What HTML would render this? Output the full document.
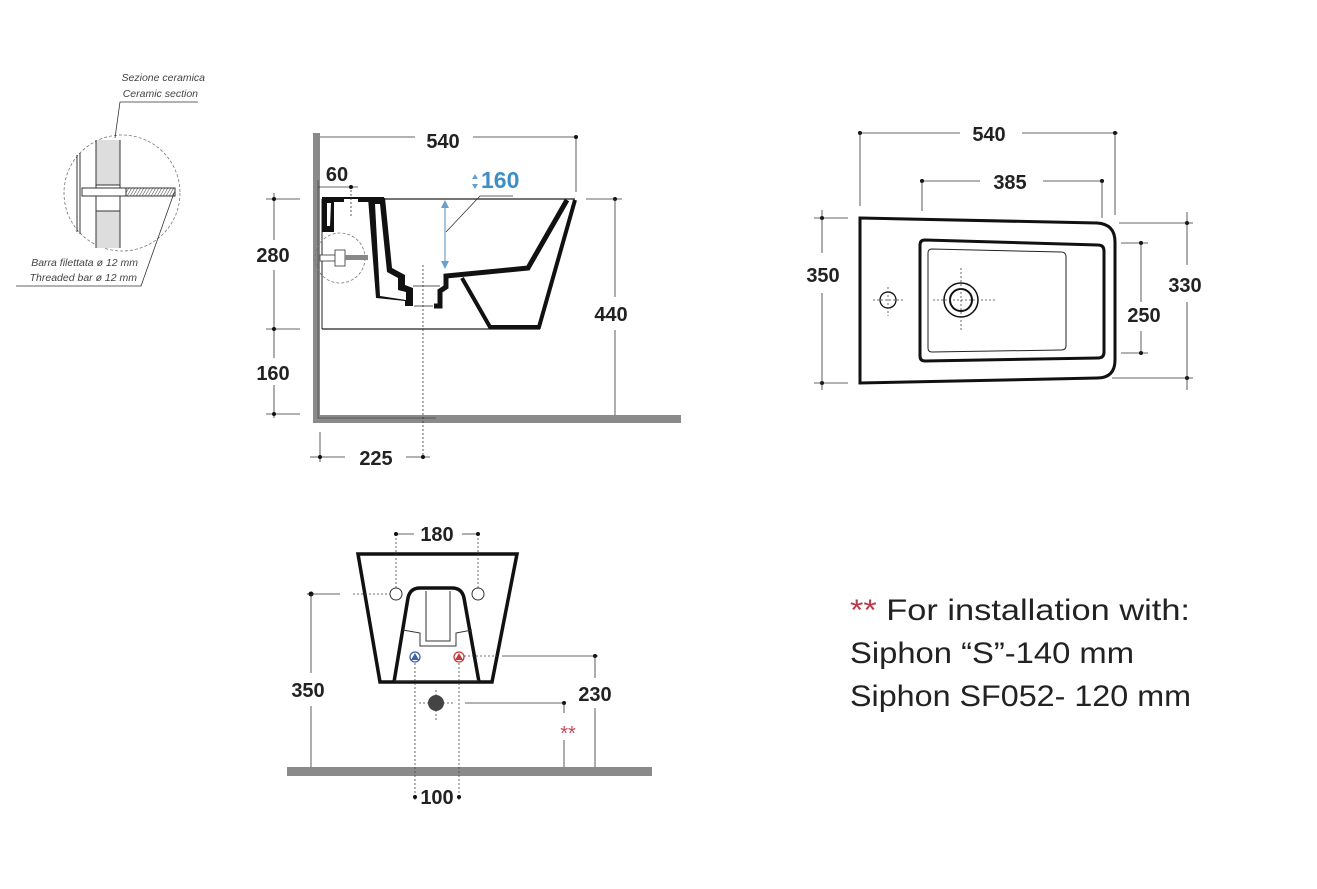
<!DOCTYPE html>
<html><head><meta charset="utf-8"><style>
html,body{margin:0;padding:0;background:#fff}
svg{display:block}
.d{font-family:"Liberation Sans",sans-serif;font-weight:bold;font-size:20px;fill:#222}
.it{font-family:"Liberation Sans",sans-serif;font-style:italic;font-size:10.5px;fill:#444}
.t{font-family:"Liberation Sans",sans-serif;font-size:30px;fill:#222}
</style></head><body>
<svg width="1317" height="889" viewBox="0 0 1317 889" xmlns="http://www.w3.org/2000/svg">
<rect width="1317" height="889" fill="#fff"/>

<!-- DETAIL -->
<g>
<circle cx="122" cy="193" r="58" fill="none" stroke="#777" stroke-width="0.8" stroke-dasharray="3,2"/>
<rect x="96" y="140" width="24" height="108" fill="#ddd"/>
<line x1="96" y1="140" x2="96" y2="248" stroke="#333" stroke-width="1"/>
<line x1="120" y1="140" x2="120" y2="248" stroke="#333" stroke-width="1"/>
<line x1="77" y1="155" x2="77" y2="232" stroke="#333" stroke-width="1"/>
<line x1="80" y1="153" x2="80" y2="234" stroke="#333" stroke-width="1"/>
<rect x="96" y="185" width="24" height="26" fill="#fff" stroke="#333" stroke-width="1"/>
<rect x="82" y="188" width="93" height="8" fill="#fff" stroke="#333" stroke-width="1"/>
<rect x="126" y="188" width="49" height="8" fill="url(#h)" stroke="#333" stroke-width="1"/>
<defs><pattern id="h" width="3" height="8" patternUnits="userSpaceOnUse" patternTransform="skewX(-30)"><rect width="3" height="8" fill="#fff"/><line x1="0" y1="0" x2="0" y2="8" stroke="#444" stroke-width="1.2"/></pattern></defs>
<polyline points="115,138 120,102 198,102" fill="none" stroke="#333" stroke-width="0.8"/>
<polyline points="174,193 141,286 16,286" fill="none" stroke="#333" stroke-width="0.8"/>
<text class="it" x="205" y="81" text-anchor="end">Sezione ceramica</text>
<text class="it" x="198" y="97" text-anchor="end">Ceramic section</text>
<text class="it" x="138" y="266" text-anchor="end">Barra filettata ø 12 mm</text>
<text class="it" x="137" y="281" text-anchor="end">Threaded bar ø 12 mm</text>
</g>

<!-- SIDE VIEW -->
<g>
<rect x="313" y="133" width="7" height="290" fill="#8a8a8a"/>
<rect x="313" y="415" width="368" height="8" fill="#8a8a8a"/>
<polyline points="318,180 318,418 436,418" fill="none" stroke="#555" stroke-width="1"/>
<line x1="322" y1="329" x2="540" y2="329" stroke="#222" stroke-width="1.2"/>
<line x1="322" y1="199" x2="322" y2="329" stroke="#222" stroke-width="1"/>
<!-- top rim -->
<rect x="322" y="197" width="62" height="5" fill="#111"/>
<line x1="384" y1="199" x2="575" y2="199" stroke="#222" stroke-width="1.2"/>
<rect x="344" y="199" width="14" height="3" fill="#fff"/>
<polygon points="322,199 334,199 334,232 322,232" fill="#111"/>
<polygon points="327,203 331,203 330,226 327,226" fill="#fff"/>
<!-- band -->
<polygon points="368,198 385,198 392,268 405,275 405,285 413,288 413,306 405,306 405,301 376,298" fill="#111"/>
<polygon points="375,204 380,204 387,272 398,278 398,290 406,292 406,300 380,296" fill="#fff"/>
<polygon points="433,306 441,306 441,290 446,286 446,276 528,268 566,199 578,199 540,329 490,329 462,280 448,282 448,290 441,296 441,306" fill="none"/>
<polyline points="434,306 440,306 440,291 446,287 446,276 528,268 567,200" fill="none" stroke="#111" stroke-width="5" stroke-linejoin="miter"/>
<polyline points="575,200 539,327 490,327 462,278" fill="none" stroke="#111" stroke-width="4"/>
<line x1="414" y1="306" x2="433" y2="306" stroke="#555" stroke-width="1"/>
<line x1="413" y1="286" x2="440" y2="286" stroke="#555" stroke-width="1"/>
<line x1="423" y1="265" x2="423" y2="460" stroke="#333" stroke-width="0.8" stroke-dasharray="2,2"/>
<line x1="351" y1="190" x2="351" y2="218" stroke="#333" stroke-width="0.8" stroke-dasharray="2,2"/>
<!-- fixing -->
<circle cx="340" cy="258" r="25" fill="none" stroke="#777" stroke-width="0.8" stroke-dasharray="3,2"/>
<rect x="320" y="255" width="25" height="6" fill="#fff" stroke="#333" stroke-width="0.8"/>
<rect x="335" y="250" width="10" height="16" fill="#fff" stroke="#333" stroke-width="0.8"/>
<rect x="345" y="255" width="23" height="5" fill="#888"/>
<!-- blue arrow -->
<line x1="445" y1="203" x2="445" y2="266" stroke="#6aa0cc" stroke-width="1.2"/>
<polygon points="445,200 441,208 449,208" fill="#6aa0cc"/>
<polygon points="445,269 441,261 449,261" fill="#6aa0cc"/>
<polyline points="446,232 480,196 513,196" fill="none" stroke="#333" stroke-width="0.8"/>
<polygon points="475,174 472,179 478,179" fill="#6aa0cc"/><polygon points="475,189 472,184 478,184" fill="#6aa0cc"/>
<text class="d" x="481" y="188" style="fill:#3d8fc4;font-size:23px">160</text>
<!-- dims -->
<line x1="320" y1="137" x2="415" y2="137" stroke="#333" stroke-width="0.8"/>
<line x1="473" y1="137" x2="575" y2="137" stroke="#333" stroke-width="0.8"/>
<line x1="576" y1="137" x2="576" y2="192" stroke="#333" stroke-width="0.8"/>
<circle cx="576" cy="137" r="2" fill="#111"/>
<text class="d" x="443" y="148" text-anchor="middle">540</text>
<text class="d" x="337" y="181" text-anchor="middle">60</text>
<line x1="318" y1="187" x2="358" y2="187" stroke="#333" stroke-width="0.8"/>
<circle cx="351" cy="187" r="2" fill="#111"/>
<line x1="274" y1="193" x2="274" y2="240" stroke="#333" stroke-width="0.8"/>
<line x1="274" y1="270" x2="274" y2="358" stroke="#333" stroke-width="0.8"/>
<line x1="274" y1="385" x2="274" y2="418" stroke="#333" stroke-width="0.8"/>
<line x1="266" y1="199" x2="300" y2="199" stroke="#333" stroke-width="0.8"/>
<line x1="266" y1="329" x2="300" y2="329" stroke="#333" stroke-width="0.8"/>
<line x1="266" y1="414" x2="300" y2="414" stroke="#333" stroke-width="0.8"/>
<circle cx="274" cy="199" r="2" fill="#111"/><circle cx="274" cy="329" r="2" fill="#111"/><circle cx="274" cy="414" r="2" fill="#111"/>
<text class="d" x="273" y="262" text-anchor="middle">280</text>
<text class="d" x="273" y="380" text-anchor="middle">160</text>
<line x1="586" y1="199" x2="622" y2="199" stroke="#333" stroke-width="0.8"/>
<circle cx="615" cy="199" r="2" fill="#111"/>
<line x1="615" y1="199" x2="615" y2="297" stroke="#333" stroke-width="0.8"/>
<line x1="615" y1="330" x2="615" y2="415" stroke="#333" stroke-width="0.8"/>
<text class="d" x="611" y="321" text-anchor="middle">440</text>
<line x1="320" y1="432" x2="320" y2="462" stroke="#333" stroke-width="0.8"/>
<line x1="310" y1="457" x2="345" y2="457" stroke="#333" stroke-width="0.8"/>
<line x1="406" y1="457" x2="430" y2="457" stroke="#333" stroke-width="0.8"/>
<circle cx="320" cy="457" r="2" fill="#111"/><circle cx="423" cy="457" r="2" fill="#111"/>
<text class="d" x="376" y="465" text-anchor="middle">225</text>
</g>

<!-- TOP VIEW -->
<g>
<path d="M860,218 L1097,223 Q1115,224 1115,242 L1115,360 Q1115,378 1097,378 L860,383 Z" fill="none" stroke="#111" stroke-width="3"/>
<path d="M925,240 L1098,245 Q1104,245 1104,251 L1104,352 Q1104,358 1098,358 L925,361 Q920,361 920,356 L920,245 Q920,240 925,240 Z" fill="none" stroke="#111" stroke-width="3"/>
<path d="M932,249 L1061,252 Q1066,252 1066,257 L1066,346 Q1066,350 1061,350 L932,352 Q928,352 928,348 L928,253 Q928,249 932,249 Z" fill="none" stroke="#222" stroke-width="1"/>
<circle cx="961" cy="300" r="17" fill="none" stroke="#111" stroke-width="1.5"/>
<circle cx="961" cy="300" r="11" fill="none" stroke="#111" stroke-width="2"/>
<circle cx="888" cy="300" r="8" fill="none" stroke="#111" stroke-width="1.3"/>
<g stroke="#444" stroke-width="0.8" stroke-dasharray="2,2">
<line x1="873" y1="300" x2="905" y2="300"/><line x1="888" y1="287" x2="888" y2="316"/>
<line x1="933" y1="300" x2="997" y2="300"/><line x1="961" y1="268" x2="961" y2="332"/>
</g>
<line x1="860" y1="133" x2="960" y2="133" stroke="#333" stroke-width="0.8"/>
<line x1="1022" y1="133" x2="1118" y2="133" stroke="#333" stroke-width="0.8"/>
<circle cx="860" cy="133" r="2" fill="#111"/><circle cx="1115" cy="133" r="2" fill="#111"/>
<line x1="860" y1="133" x2="860" y2="206" stroke="#333" stroke-width="0.8"/>
<line x1="1115" y1="133" x2="1115" y2="215" stroke="#333" stroke-width="0.8"/>
<text class="d" x="989" y="141" text-anchor="middle">540</text>
<line x1="922" y1="181" x2="980" y2="181" stroke="#333" stroke-width="0.8"/>
<line x1="1043" y1="181" x2="1102" y2="181" stroke="#333" stroke-width="0.8"/>
<circle cx="922" cy="181" r="2" fill="#111"/><circle cx="1102" cy="181" r="2" fill="#111"/>
<line x1="922" y1="181" x2="922" y2="211" stroke="#333" stroke-width="0.8"/>
<line x1="1102" y1="181" x2="1102" y2="218" stroke="#333" stroke-width="0.8"/>
<text class="d" x="1010" y="189" text-anchor="middle">385</text>
<line x1="814" y1="218" x2="848" y2="218" stroke="#333" stroke-width="0.8"/>
<line x1="814" y1="383" x2="848" y2="383" stroke="#333" stroke-width="0.8"/>
<circle cx="822" cy="218" r="2" fill="#111"/><circle cx="822" cy="383" r="2" fill="#111"/>
<line x1="822" y1="210" x2="822" y2="253" stroke="#333" stroke-width="0.8"/>
<line x1="822" y1="293" x2="822" y2="390" stroke="#333" stroke-width="0.8"/>
<text class="d" x="823" y="282" text-anchor="middle">350</text>
<line x1="1119" y1="223" x2="1193" y2="223" stroke="#333" stroke-width="0.8"/>
<line x1="1112" y1="378" x2="1193" y2="378" stroke="#333" stroke-width="0.8"/>
<circle cx="1187" cy="223" r="2" fill="#111"/><circle cx="1187" cy="378" r="2" fill="#111"/>
<line x1="1187" y1="212" x2="1187" y2="265" stroke="#333" stroke-width="0.8"/>
<line x1="1187" y1="302" x2="1187" y2="390" stroke="#333" stroke-width="0.8"/>
<text class="d" x="1185" y="292" text-anchor="middle">330</text>
<line x1="1121" y1="243" x2="1148" y2="243" stroke="#333" stroke-width="0.8"/>
<line x1="1121" y1="353" x2="1148" y2="353" stroke="#333" stroke-width="0.8"/>
<circle cx="1141" cy="243" r="2" fill="#111"/><circle cx="1141" cy="353" r="2" fill="#111"/>
<line x1="1141" y1="243" x2="1141" y2="302" stroke="#333" stroke-width="0.8"/>
<line x1="1141" y1="331" x2="1141" y2="353" stroke="#333" stroke-width="0.8"/>
<text class="d" x="1144" y="322" text-anchor="middle">250</text>
</g>

<!-- FRONT VIEW -->
<g>
<rect x="287" y="767" width="365" height="9" fill="#8a8a8a"/>
<polygon points="358,554 517,554 492,682 380,682" fill="none" stroke="#111" stroke-width="3.5"/>
<path d="M394,682 L408,598 Q410,588 420,588 L452,588 Q462,588 464,598 L479,682" fill="none" stroke="#111" stroke-width="3.5"/>
<polyline points="426,591 426,641 450,641 450,591" fill="none" stroke="#333" stroke-width="1"/>
<polyline points="403,630 420,633 420,646 456,646 456,633 472,630" fill="none" stroke="#333" stroke-width="1"/>
<line x1="394" y1="681" x2="479" y2="681" stroke="#333" stroke-width="1"/>
<circle cx="396" cy="594" r="6" fill="#fff" stroke="#333" stroke-width="1"/>
<circle cx="478" cy="594" r="6" fill="#fff" stroke="#333" stroke-width="1"/>
<circle cx="415" cy="657" r="5" fill="#fff" stroke="#3d63a8" stroke-width="1.3"/>
<polygon points="415,653 411,660 419,660" fill="#3d63a8"/>
<circle cx="459" cy="657" r="5" fill="#fff" stroke="#c83a3a" stroke-width="1.3"/>
<polygon points="459,653 455,660 463,660" fill="#c83a3a"/>
<circle cx="436" cy="703" r="8" fill="#444"/>
<g stroke="#444" stroke-width="0.8" stroke-dasharray="2,2">
<line x1="396" y1="534" x2="396" y2="588"/><line x1="478" y1="534" x2="478" y2="588"/>
<line x1="353" y1="594" x2="390" y2="594"/>
<line x1="415" y1="663" x2="415" y2="800"/><line x1="459" y1="663" x2="459" y2="800"/>
<line x1="419" y1="703" x2="455" y2="703"/><line x1="436" y1="690" x2="436" y2="720"/>
<line x1="464" y1="656" x2="497" y2="656"/>
</g>
<line x1="396" y1="534" x2="414" y2="534" stroke="#333" stroke-width="0.8"/>
<line x1="462" y1="534" x2="478" y2="534" stroke="#333" stroke-width="0.8"/>
<circle cx="396" cy="534" r="2" fill="#111"/><circle cx="478" cy="534" r="2" fill="#111"/>
<text class="d" x="437" y="541" text-anchor="middle">180</text>
<line x1="307" y1="594" x2="340" y2="594" stroke="#333" stroke-width="0.8"/>
<circle cx="311" cy="594" r="2.5" fill="#111"/>
<line x1="311" y1="594" x2="311" y2="673" stroke="#333" stroke-width="0.8"/>
<line x1="311" y1="706" x2="311" y2="767" stroke="#333" stroke-width="0.8"/>
<text class="d" x="308" y="697" text-anchor="middle">350</text>
<line x1="502" y1="656" x2="598" y2="656" stroke="#333" stroke-width="0.8"/>
<circle cx="595" cy="656" r="2" fill="#111"/>
<line x1="595" y1="656" x2="595" y2="678" stroke="#333" stroke-width="0.8"/>
<line x1="595" y1="708" x2="595" y2="767" stroke="#333" stroke-width="0.8"/>
<text class="d" x="595" y="701" text-anchor="middle">230</text>
<line x1="465" y1="703" x2="565" y2="703" stroke="#333" stroke-width="0.8"/>
<circle cx="564" cy="703" r="2" fill="#111"/>
<line x1="564" y1="703" x2="564" y2="713" stroke="#333" stroke-width="0.8"/>
<line x1="564" y1="740" x2="564" y2="767" stroke="#333" stroke-width="0.8"/>
<text x="568" y="740" text-anchor="middle" style="font-family:'Liberation Sans',sans-serif;font-size:20px;fill:#c8485a">**</text>
<circle cx="415" cy="797" r="2" fill="#111"/><circle cx="459" cy="797" r="2" fill="#111"/>
<text class="d" x="437" y="804" text-anchor="middle">100</text>
</g>

<!-- NOTE -->
<text class="t" x="850" y="620" textLength="340" lengthAdjust="spacingAndGlyphs"><tspan style="fill:#b83a4a">**</tspan> For installation with:</text>
<text class="t" x="850" y="663" textLength="284" lengthAdjust="spacingAndGlyphs">Siphon “S”-140 mm</text>
<text class="t" x="850" y="706" textLength="341" lengthAdjust="spacingAndGlyphs">Siphon SF052- 120 mm</text>
</svg>
</body></html>
